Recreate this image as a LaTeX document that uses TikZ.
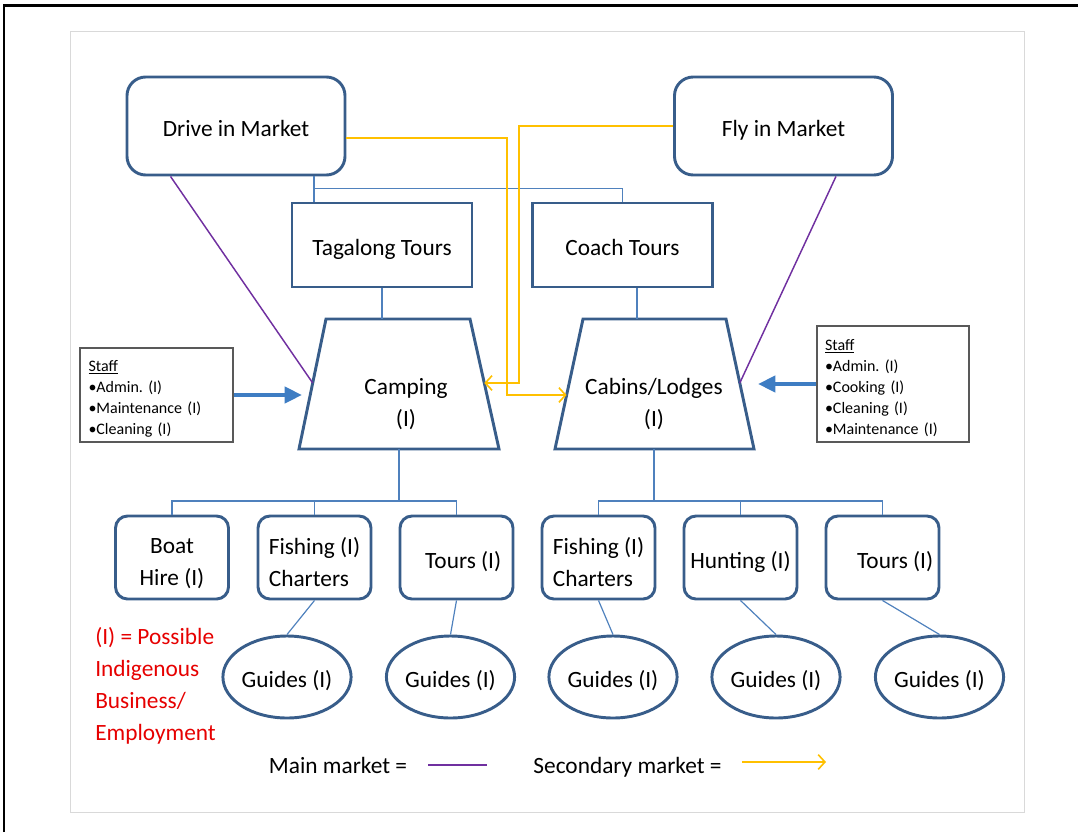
\documentclass[tikz,border=0pt]{standalone}
\usepackage{fontspec}
\setmainfont{Carlito}
\usetikzlibrary{arrows.meta,shapes.geometric,calc}
\definecolor{bdr}{RGB}{56,93,138}
\definecolor{thinb}{RGB}{79,129,189}
\definecolor{thickb}{RGB}{62,125,195}
\definecolor{mpurple}{RGB}{112,48,160}
\definecolor{myellow}{RGB}{255,192,0}
\definecolor{mred}{RGB}{230,0,0}
\definecolor{sgray}{RGB}{89,89,89}
\newcommand\dnstrut[1]{\rule{0pt}{#1}}
\begin{document}
\frenchspacing
\begin{tikzpicture}[x=0.75pt,y=-0.75pt,
  every node/.style={font=\fontsize{17.5}{24}\selectfont, inner sep=0pt},
  sz/.style 2 args={minimum width=#1*0.75pt, minimum height=#2*0.75pt},
  oneline/.style={text height=17pt, text depth=1.2pt},
  market/.style={draw=bdr, line width=2.2pt, rounded corners=14pt, sz={218}{98}, oneline},
  tour/.style={draw=bdr, line width=2.2pt, sz={180}{84}, oneline},
  act/.style={draw=bdr, line width=2.2pt, rounded corners=9pt, sz={113}{83}, align=center},
  guide/.style={ellipse, draw=bdr, line width=2.2pt, sz={126}{82}, oneline},
  trap/.style={draw=bdr, line width=2.2pt, line join=miter},
  staffbox/.style={draw=sgray, line width=1.1pt, align=left, font=\fontsize{12}{15.75}\selectfont, inner xsep=6pt},
  link/.style={draw=thinb, line width=0.9pt},
  mainm/.style={draw=mpurple, line width=1.1pt},
  secm/.style={draw=myellow, line width=1pt, -{Straight Barb[length=5pt,width=11pt,line width=1.2pt]}},
  thickarr/.style={draw=thickb, line width=3pt, -{Triangle[length=13pt,width=12pt]}}
]
\useasboundingbox (0,0) rectangle (1078,832);
% frame
\draw[line width=1.6pt, black] (4,832) -- (4,5.5) -- (1078,5.5);
\draw[black!15, line width=0.6pt] (70,31) rectangle (1024,812);

% markets
\node[market] (drive) at (236,126) {Drive in Market};
\node[market] (fly) at (783.5,126) {Fly in Market};
% tours
\node[tour] (tag) at (382,245) {Tagalong Tours};
\node[tour] (coach) at (622.5,245) {Coach Tours};

% trapezoids
\coordinate (camp-tl) at (326,319);
\coordinate (camp-tr) at (470,319);
\coordinate (camp-br) at (499,449);
\coordinate (camp-bl) at (299,449);
\draw[trap] (camp-tl) -- (camp-tr) -- (camp-br) -- (camp-bl) -- cycle;
\node[align=center] (camp) at (406,404) {Camping\\(I)};
\coordinate (cab-tl) at (583,319);
\coordinate (cab-tr) at (726,319);
\coordinate (cab-br) at (754,449);
\coordinate (cab-bl) at (555,449);
\draw[trap] (cab-tl) -- (cab-tr) -- (cab-br) -- (cab-bl) -- cycle;
\node[align=center] (cab) at (654,404) {Cabins/Lodges\\(I)};

% staff boxes
\node[staffbox, sz={153}{94}, text width=102pt] (s1) at (156.5,395) {\dnstrut{14pt}\underline{Staff}\\•Admin. (I)\\•Maintenance (I)\\•Cleaning (I)};
\node[staffbox, sz={152}{116}, text width=102pt] (s2) at (893,384) {\dnstrut{14pt}\underline{Staff}\\•Admin. (I)\\•Cooking (I)\\•Cleaning (I)\\•Maintenance (I)};

% activities
\node[act] (boat) at (172,557.5) {\dnstrut{20pt}Boat\\Hire (I)};
\node[act, align=left] (fish1) at (314.5,557.5) {\dnstrut{20pt}Fishing (I)\\Charters};
\node[act, oneline] (tours1) at (456.5,557.5) {\hspace*{10pt}Tours (I)};
\node[act, align=left] (fish2) at (598.5,557.5) {\dnstrut{20pt}Fishing (I)\\Charters};
\node[act, oneline] (hunt) at (740.5,557.5) {Hunting (I)};
\node[act, oneline] (tours2) at (882.5,557.5) {\hspace*{19pt}Tours (I)};

% guides
\node[guide] (g1) at (287,677) {Guides (I)};
\node[guide] (g2) at (450.5,677) {Guides (I)};
\node[guide] (g3) at (613,677) {Guides (I)};
\node[guide] (g4) at (776,677) {Guides (I)};
\node[guide] (g5) at (939.5,677) {Guides (I)};

% thin blue links
\coordinate (j0) at (314,188.5);
\draw[link] (drive.south -| j0) -- (tag.north -| j0);
\draw[link] (j0) -| (coach.north);
\draw[link] (tag.south) -- (tag.south |- camp-tl);
\coordinate (cc) at (637,0);
\draw[link] (coach.south -| cc) -- (cab-tl -| cc);
\coordinate (h1) at (399,501);
\draw[link] (h1 |- camp-bl) -- (h1);
\draw[link] (boat.north) |- (h1);
\draw[link] (tours1.north) |- (h1);
\draw[link] (fish1.north) -- (fish1.north |- h1);
\coordinate (h2) at (654,501);
\draw[link] (h2 |- cab-bl) -- (h2);
\draw[link] (fish2.north) |- (h2);
\draw[link] (tours2.north) |- (h2);
\draw[link] (hunt.north) -- (hunt.north |- h2);
\draw[link] (fish1.south) -- (g1.north);
\draw[link] (tours1.south) -- (g2.north);
\draw[link] (fish2.south) -- (g3.north);
\draw[link] (hunt.south) -- (g4.north);
\draw[link] (tours2.south) -- (g5.north);

% main market (purple)
\coordinate (d1) at ($(drive.south west)+(45,0)$);
\coordinate (campL) at ($(camp-tl)!{64/130}!(camp-bl)$);
\draw[mainm] (d1) -- (campL);
\coordinate (f1) at ($(fly.south east)+(-58,0)$);
\coordinate (cabR) at ($(cab-tr)!{64/130}!(cab-br)$);
\draw[mainm] (f1) -- (cabR);

% secondary market (yellow)
\coordinate (y1) at (507,138);
\coordinate (cabL) at ($(cab-tl)!{76/130}!(cab-bl)$);
\draw[secm] (drive.east |- y1) -- (y1) -- (y1 |- cabL) -- (cabL);
\coordinate (y2) at (519,126);
\coordinate (campR) at ($(camp-tr)!{64/130}!(camp-br)$);
\draw[secm] (fly.west) -- (y2) -- (y2 |- campR) -- (campR);

% staff arrows
\coordinate (a1) at (302,395);
\draw[thickarr] (s1.east) -- (a1);
\coordinate (a2) at (758,384);
\draw[thickarr] (s2.west) -- (a2);

% note
\node[text=mred, align=left, anchor=west] (note) at (95,686) {(I) = Possible\\Indigenous\\Business/\\Employment};

% legend
\node[oneline] (lgm) at (338,763) {Main market =};
\coordinate (lm1) at (428,765);
\coordinate (lm2) at (487,765);
\draw[mpurple, line width=1.6pt] (lm1) -- (lm2);
\node[oneline] (lgs) at (627.5,763) {Secondary market =};
\coordinate (ls1) at (742,762);
\coordinate (ls2) at (826,762);
\draw[secm] (ls1) -- (ls2);
\end{tikzpicture}
\end{document}
